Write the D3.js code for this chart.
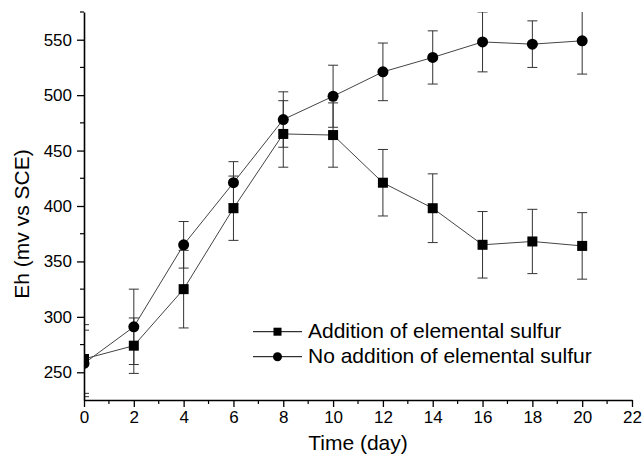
<!DOCTYPE html>
<html>
<head>
<meta charset="utf-8">
<script src="https://cdn.jsdelivr.net/npm/d3@7"></script>
<style>
  html, body { margin: 0; padding: 0; background: #fff; }
  svg { display: block; }
  text { font-family: "Liberation Sans", Arial, sans-serif; fill: #000; }
</style>
</head>
<body>
<svg id="chart" width="644" height="454"></svg>
<script>
// ---- data ----
const days = [0, 2, 4, 6, 8, 10, 12, 14, 16, 18, 20];
const additionEh  = [262, 274, 325, 398, 465, 464, 421, 398, 365, 368, 364];
const additionErr = [31, 25, 35, 29, 30, 29, 30, 31, 30, 29, 30];
const noAdditionEh  = [258, 291, 365, 421, 478, 499, 521, 534, 548, 546, 549];
const noAdditionErr = [30, 34, 21, 19, 25, 28, 26, 24, 27, 21, 30];
const seriesNames = ["Addition of elemental sulfur", "No addition of elemental sulfur"];
const xTickValues = [0, 2, 4, 6, 8, 10, 12, 14, 16, 18, 20, 22];
const yTickValues = [250, 300, 350, 400, 450, 500, 550];
const xTitle = "Time (day)";
const yTitle = "Eh (mv vs SCE)";

// ---- layout ----
const svg = d3.select("#chart");
const pLeft = 84, pRight = 632, pTop = 12, pBottom = 400;
const x = d3.scaleLinear().domain([0, 22]).range([pLeft, pRight]);
const y = d3.scaleLinear().domain([225, 575]).range([pBottom, pTop]);

svg.append("defs").append("clipPath").attr("id", "plotclip")
  .append("rect").attr("x", pLeft).attr("y", pTop)
  .attr("width", pRight - pLeft).attr("height", pBottom - pTop);

const series = [
  { name: seriesNames[0], values: additionEh, err: additionErr, shape: "square" },
  { name: seriesNames[1], values: noAdditionEh, err: noAdditionErr, shape: "circle" }
];

const plot = svg.append("g").attr("clip-path", "url(#plotclip)");
const line = d3.line().x(d => x(d.x)).y(d => y(d.y));

series.forEach(s => {
  const pts = days.map((d, i) => ({ x: d, y: s.values[i], e: s.err[i] }));
  plot.append("path").datum(pts).attr("d", line)
    .attr("fill", "none").attr("stroke", "#444").attr("stroke-width", 1);
  const eb = plot.append("g").attr("stroke", "#333").attr("stroke-width", 1);
  pts.forEach(p => {
    eb.append("line").attr("x1", x(p.x)).attr("x2", x(p.x))
      .attr("y1", y(p.y - p.e)).attr("y2", y(p.y + p.e));
    [p.y - p.e, p.y + p.e].forEach(v => {
      eb.append("line").attr("x1", x(p.x) - 5).attr("x2", x(p.x) + 5)
        .attr("y1", y(v)).attr("y2", y(v));
    });
  });
});

series.forEach(s => {
  const pts = days.map((d, i) => ({ x: d, y: s.values[i] }));
  if (s.shape === "square") {
    plot.selectAll(null).data(pts).enter().append("rect")
      .attr("x", d => x(d.x) - 5).attr("y", d => y(d.y) - 5)
      .attr("width", 10).attr("height", 10).attr("fill", "#000");
  } else {
    plot.selectAll(null).data(pts).enter().append("circle")
      .attr("cx", d => x(d.x)).attr("cy", d => y(d.y))
      .attr("r", 5.5).attr("fill", "#000");
  }
});

// ---- axes ----
const xAxis = d3.axisBottom(x).tickValues(xTickValues).tickFormat(d3.format("d"))
  .tickSizeInner(7).tickSizeOuter(0).tickPadding(4);
const gx = svg.append("g").attr("transform", `translate(0,${pBottom})`).call(xAxis);
gx.select(".domain").attr("stroke", "#000").attr("stroke-width", 1.6);
gx.selectAll(".tick line").attr("stroke", "#000").attr("stroke-width", 1.3);
gx.selectAll(".tick text").attr("font-size", 17).attr("font-family", "Liberation Sans, Arial, sans-serif");
const xMinor = d3.range(1, 22, 2);
svg.append("g").selectAll("line").data(xMinor).enter().append("line")
  .attr("x1", d => x(d)).attr("x2", d => x(d))
  .attr("y1", pBottom).attr("y2", pBottom + 4)
  .attr("stroke", "#000").attr("stroke-width", 1.2);

const yAxis = d3.axisLeft(y).tickValues(yTickValues).tickFormat(d3.format("d"))
  .tickSizeInner(7).tickSizeOuter(0).tickPadding(5);
const gy = svg.append("g").attr("transform", `translate(${pLeft},0)`).call(yAxis);
gy.select(".domain").attr("stroke", "#000").attr("stroke-width", 1.6);
gy.selectAll(".tick line").attr("stroke", "#000").attr("stroke-width", 1.3);
gy.selectAll(".tick text").attr("font-size", 17).attr("font-family", "Liberation Sans, Arial, sans-serif");
const yMinor = d3.range(275, 576, 50);
svg.append("g").selectAll("line").data(yMinor).enter().append("line")
  .attr("x1", pLeft - 4).attr("x2", pLeft)
  .attr("y1", d => y(d)).attr("y2", d => y(d))
  .attr("stroke", "#000").attr("stroke-width", 1.2);

// ---- titles ----
svg.append("text").attr("x", (pLeft + pRight) / 2).attr("y", 450)
  .attr("text-anchor", "middle").attr("font-size", 21).text(xTitle);
svg.append("text").attr("transform", `translate(29,${(pTop + pBottom) / 2 + 18}) rotate(-90)`)
  .attr("text-anchor", "middle").attr("font-size", 21).text(yTitle);

// ---- legend ----
const legend = svg.append("g");
const legendRows = [331.7, 356.7];
series.forEach((s, i) => {
  const cy = legendRows[i];
  legend.append("line").attr("x1", 253).attr("x2", 302).attr("y1", cy).attr("y2", cy)
    .attr("stroke", "#000").attr("stroke-width", 1);
  if (s.shape === "square") {
    legend.append("rect").attr("x", 273.5).attr("y", cy - 4).attr("width", 8).attr("height", 8).attr("fill", "#000");
  } else {
    legend.append("circle").attr("cx", 277.5).attr("cy", cy).attr("r", 4.5).attr("fill", "#000");
  }
  legend.append("text").attr("x", 308).attr("y", cy + 6.5)
    .attr("font-size", 21).text(s.name);
});
</script>
</body>
</html>
